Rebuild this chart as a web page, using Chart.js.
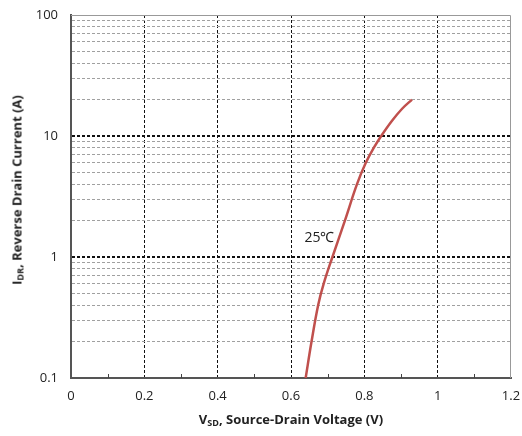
<!DOCTYPE html>
<html>
<head>
<meta charset="utf-8">
<script src="https://cdn.jsdelivr.net/npm/chart.js@4.4.0/dist/chart.umd.min.js"></script>
<style>
  body { margin: 0; background: #fff; }
  #wrap { position: relative; width: 522px; height: 436px; }
  .ttl { position: absolute; font-family: "Open Sans", sans-serif; font-weight: bold; font-size: 13px; color: #222; white-space: nowrap; }
  .ttl sub { font-size: 9px; vertical-align: -2px; }
  #xTitle { left: 291px; top: 410px; transform: translateX(-50%); }
  #yTitle { left: 17px; top: 190px; transform: translate(-50%, -50%) rotate(-90deg); }
</style>
</head>
<body>
<div id="wrap">
  <canvas id="chart" width="522" height="436"></canvas>
  <div class="ttl" id="xTitle">V<sub>SD</sub>, Source-Drain Voltage (V)</div>
  <div class="ttl" id="yTitle">I<sub>DR</sub>, Reverse Drain Current (A)</div>
</div>
<script>
// curve: source-drain voltage (V) vs reverse drain current (A)
const vsd = [0.640, 0.656, 0.674, 0.689, 0.713, 0.747, 0.780, 0.804, 0.826, 0.846, 0.875, 0.903, 0.930];
const idr = [0.1, 0.2, 0.4, 0.6, 1.0, 2.0, 4.0, 6.0, 8.0, 10, 13.3, 16.8, 20];

const decades = [0.1, 1, 10, 100];
const xMinorTicks = [0.1, 0.3, 0.5, 0.7, 0.9, 1.1];
const curveLabel = '25℃';
const labelAt = { x: 0.6775, y: 1.43 };

const points = vsd.map((v, i) => ({ x: v, y: idr[i] }));

const isDecade = (v) => decades.some((d) => Math.abs(v - d) < d * 1e-6);

// frame, minor x marks and the curve label
const extras = {
  id: 'extras',
  afterDraw(chart) {
    const { ctx, chartArea: a, scales } = chart;
    ctx.save();
    ctx.strokeStyle = '#999';
    ctx.lineWidth = 1;
    ctx.beginPath();
    ctx.moveTo(a.left, a.top + 0.5);
    ctx.lineTo(a.right - 0.5, a.top + 0.5);
    ctx.lineTo(a.right - 0.5, a.bottom);
    ctx.stroke();

    ctx.strokeStyle = '#444';
    ctx.beginPath();
    xMinorTicks.forEach((t) => {
      const px = Math.round(scales.x.getPixelForValue(t)) + 0.5;
      ctx.moveTo(px, a.bottom);
      ctx.lineTo(px, a.bottom - 4);
    });
    ctx.stroke();

    ctx.fillStyle = '#222';
    ctx.font = '14px "Open Sans", sans-serif';
    ctx.textAlign = 'center';
    ctx.textBaseline = 'middle';
    ctx.fillText(curveLabel, scales.x.getPixelForValue(labelAt.x), scales.y.getPixelForValue(labelAt.y));
    ctx.restore();
  }
};

new Chart(document.getElementById('chart').getContext('2d'), {
  type: 'scatter',
  data: {
    datasets: [
      {
        data: points,
        showLine: true,
        borderColor: '#c0504d',
        borderWidth: 2.5,
        pointRadius: 0,
        tension: 0.4,
      },
    ],
  },
  options: {
    responsive: false,
    animation: false,
    layout: { padding: { top: 15, right: 11, left: 0, bottom: 0 } },
    plugins: { legend: { display: false }, tooltip: { enabled: false } },
    scales: {
      x: {
        type: 'linear',
        min: 0,
        max: 1.2,
        ticks: {
          stepSize: 0.2,
          padding: 10,
          color: '#222',
          font: { family: 'Open Sans', size: 13 },
          callback: (v) => String(Math.round(v * 10) / 10),
        },
        grid: {
          drawTicks: false,
          color: (c) => (c.tick && (c.tick.value <= 0.001 || c.tick.value >= 1.199) ? 'rgba(0,0,0,0)' : '#111'),
          lineWidth: 1,
        },
        border: { color: '#555', width: 2, dash: [3, 2] },
        afterFit: (s) => {
          s.height = 58;
          s.paddingLeft = 0;
          s.paddingRight = 0;
        },
      },
      y: {
        type: 'logarithmic',
        min: 0.1,
        max: 100,
        afterBuildTicks: (s) => {
          const t = [];
          decades.slice(0, 3).forEach((d) => {
            for (let m = 1; m <= 9; m++) t.push({ value: +(d * m).toPrecision(3) });
          });
          t.push({ value: 100 });
          s.ticks = t;
        },
        ticks: {
          autoSkip: false,
          padding: 13,
          color: '#222',
          font: { family: 'Open Sans', size: 13 },
          callback: (v) => (isDecade(v) ? String(v) : ''),
        },
        grid: {
          drawTicks: false,
          color: (c) => {
            const v = c.tick ? c.tick.value : 0;
            if (v <= 0.1001 || v >= 99.9) return 'rgba(0,0,0,0)';
            return isDecade(v) ? '#111' : '#a0a0a0';
          },
          lineWidth: (c) => (c.tick && isDecade(c.tick.value) ? 2 : 1),
        },
        border: { color: '#555', width: 2, dash: [3, 2] },
        afterFit: (s) => {
          s.width = 71;
          s.paddingTop = 0;
          s.paddingBottom = 0;
        },
      },
    },
  },
  plugins: [extras],
});
</script>
</body>
</html>
